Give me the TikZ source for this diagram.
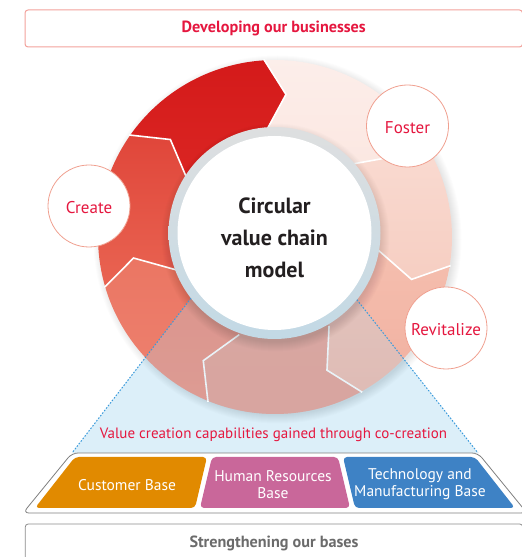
\documentclass[tikz,border=0pt]{standalone}
\usepackage{fontspec}
\setmainfont{PT Sans}
\usetikzlibrary{calc}

\definecolor{crim}{HTML}{E5173F}
\definecolor{titletext}{HTML}{231F20}
\definecolor{ringline}{HTML}{F0A090}
\definecolor{topline}{HTML}{F2A19B}
\definecolor{botline}{HTML}{8B8B8B}
\definecolor{bottext}{HTML}{6B6B6B}
\definecolor{dotblue}{HTML}{3A9ADB}
\definecolor{paleblue}{HTML}{DCEFF9}
\definecolor{ovl}{HTML}{B8D8E8}
\definecolor{rimtop}{HTML}{DEDFE0}
\definecolor{rimbot}{HTML}{C2D9E5}
\definecolor{custorange}{HTML}{E18A00}
\definecolor{hrpink}{HTML}{C9679A}
\definecolor{techblue}{HTML}{3E82C5}
\definecolor{framegray}{HTML}{7F7F7F}
% segment colours (top / bottom of each shading)
\definecolor{s0t}{HTML}{D41A1A}\definecolor{s0b}{HTML}{DE2B27}
\definecolor{s1t}{HTML}{E0463A}\definecolor{s1b}{HTML}{E96452}
\definecolor{s2t}{HTML}{EA7461}\definecolor{s2b}{HTML}{EE8270}
\definecolor{s3t}{HTML}{E99485}\definecolor{s3b}{HTML}{E68F81}
\definecolor{s4t}{HTML}{F5C0B0}\definecolor{s4b}{HTML}{F1B0A0}
\definecolor{s5t}{HTML}{FADDD4}\definecolor{s5b}{HTML}{F6CEC2}
\definecolor{s6t}{HTML}{FCEEEA}\definecolor{s6b}{HTML}{FBE3DC}

\tikzset{
  stage/.style={circle, draw=ringline, line width=0.8pt, fill=white,
    minimum size=82pt, inner sep=0pt, text=crim,
    text height=16pt, text depth=0pt,
    font=\fontsize{17}{19}\selectfont},
  basetext/.style={text=white, align=center,
    font=\fontsize{15.5}{17}\selectfont},
  chev/.style={white, line width=1.6pt, line join=miter},
  dots/.style={draw=dotblue, line width=1pt, dash pattern=on 1.6pt off 1.6pt},
  basepart/.style={rounded corners=4pt},
  headline/.style={rounded corners=3pt, minimum width=497.5pt,
    font=\bfseries\fontsize{16.2}{18}\selectfont},
}

\begin{document}
\begin{tikzpicture}[x=1pt,y=1pt]
\useasboundingbox (0,0) rectangle (522,557);
\clip (0,0) rectangle (522,557);

% hub geometry (invisible node used for anchors)
\node[circle, minimum size=212pt, inner sep=0pt, outer sep=0pt] (cc) at (274.5,324) {};

% base corner points
\coordinate (btl) at (72,104);
\coordinate (btr) at (478,104);
\coordinate (bbr) at (527,44);
\coordinate (bbl) at (23,44);

% pale blue funnel behind the ring
\fill[paleblue] (cc.218.5) -- (cc.321.5) -- (btr) -- (btl) -- cycle;

% soft shadow of the ring
\foreach \k in {1,...,9}
  \fill[black, opacity=0.011] (277.5,317.5) circle (175+\k);

% ring of seven arrow segments
\begin{scope}[shift={(275,320)}]
  \foreach \i/\ct/\cb in {0/s0t/s0b, 1/s1t/s1b, 2/s2t/s2b, 3/s3t/s3b,
                          4/s4t/s4b, 5/s5t/s5b, 6/s6t/s6b} {
    \pgfmathsetmacro\a{93.6+51.43*\i}
    \pgfmathsetmacro\b{\a+51.43}
    \shade[top color=\ct, bottom color=\cb]
      (0,0) -- (\a+2:105) -- (\a-8:143) -- (\a:177)
      arc[start angle=\a, end angle=\b, radius=177]
      -- (\b-8:143) -- (\b+2:105) -- cycle;
  }
  \foreach \i in {0,...,6} {
    \pgfmathsetmacro\a{93.6+51.43*\i}
    \draw[chev] (\a:178) -- (\a-8:143) -- (\a+2:104);
  }
\end{scope}

% funnel tint over the ring
\begin{scope}
  \clip (275,320) circle (177);
  \fill[ovl, opacity=0.3] (cc.218.5) -- (cc.321.5) -- (btr) -- (btl) -- cycle;
\end{scope}

% shadow of the hub on the ring
\foreach \k in {1,...,10}
  \fill[black, opacity=0.013] (275.5,319.5) circle (104+\k);

% hub
\shade[top color=rimtop, bottom color=rimbot] (cc.center) circle (106);
\fill[white] (cc.center) circle (97);
\node[font=\bfseries\fontsize{22}{31.7}\selectfont, align=center, text=titletext]
  (title) at (274.5,319) {Circular\\value chain\\model};

% dotted funnel edges
\draw[dots] (cc.218.5) -- (btl);
\draw[dots] (cc.321.5) -- (btr);

% stage circles
\node[stage] (create) at (89,351) {Create};
\node[stage] (foster) at (407.5,431) {Foster};
\node[stage] (revitalize) at (446,229) {Revitalize};

% caption of the funnel
\node[text=crim, font=\fontsize{15}{17}\selectfont] (cap) at (273.5,122)
  {Value creation capabilities gained through co-creation};

% base platform
\draw[framegray, line width=0.8pt, rounded corners=6pt]
  (btl) -- (btr) -- (bbr) -- (bbl) -- cycle;
\fill[custorange, basepart] (75,100) -- (207,100) -- (195,49) -- (35,49) -- cycle;
\fill[hrpink, basepart] (212,100) -- (338,100) -- (350,49) -- (200,49) -- cycle;
\fill[techblue, basepart] (343,100) -- (475,100) -- (515,49) -- (355,49) -- cycle;
\node[basetext] (cust) at (127,72) {Customer Base};
\node[basetext] (hr) at (273,72.5) {Human Resources\\Base};
\node[basetext] (tech) at (420,72.5) {Technology and\\Manufacturing Base};

% headline boxes
\node[headline, draw=topline, line width=1pt, minimum height=37pt, text=crim]
  (develop) at (273.75,528.5) {Developing our businesses};
\node[headline, draw=botline, line width=0.8pt, minimum height=38pt, text=bottext]
  (strengthen) at (274,14) {Strengthening our bases};
\end{tikzpicture}
\end{document}
